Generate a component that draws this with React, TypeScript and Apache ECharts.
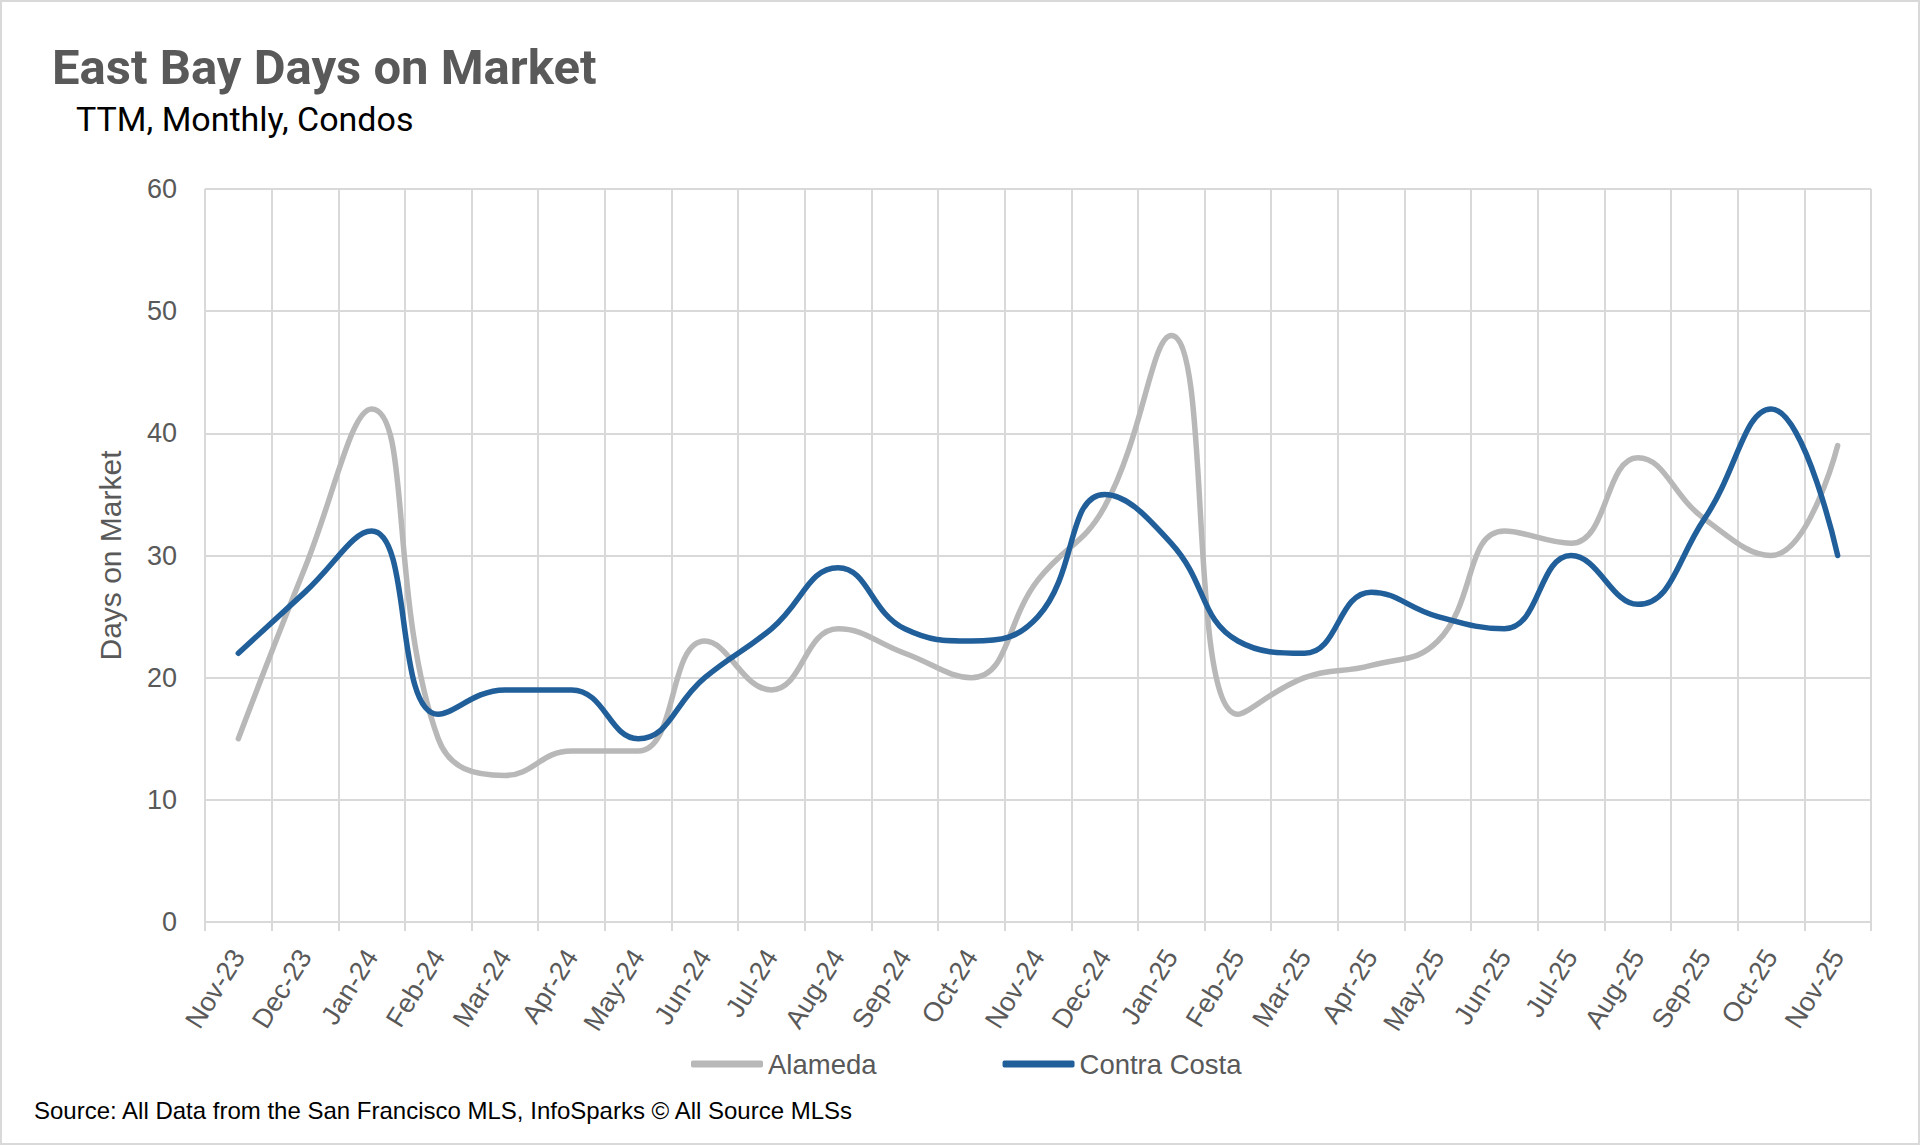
import React, { useEffect, useRef } from 'react';
import * as echarts from 'echarts';

const months = [
  'Nov-23', 'Dec-23', 'Jan-24', 'Feb-24', 'Mar-24', 'Apr-24', 'May-24', 'Jun-24', 'Jul-24',
  'Aug-24', 'Sep-24', 'Oct-24', 'Nov-24', 'Dec-24', 'Jan-25', 'Feb-25', 'Mar-25', 'Apr-25',
  'May-25', 'Jun-25', 'Jul-25', 'Aug-25', 'Sep-25', 'Oct-25', 'Nov-25',
];
const alameda = [15, 29, 42, 15, 12, 14, 14, 23, 19, 24, 22, 20, 28, 34, 48, 17, 20, 21, 23, 32, 31, 38, 33, 30, 39];
const contraCosta = [22, 27, 32, 17, 19, 19, 15, 20, 24, 29, 24, 23, 25, 35, 31, 23, 22, 27, 25, 24, 30, 26, 33, 42, 30];

const GRID_COLOR = '#d9d9d9';
const LABEL_COLOR = '#595959';
const GRAY = '#b8b8b8';
const BLUE = '#215f9a';
const FONT = "'Liberation Sans', Arial, sans-serif";
const HEAD = "Roboto, 'Liberation Sans', sans-serif";

const DaysOnMarketChart: React.FC = () => {
  const chartRef = useRef<HTMLDivElement>(null);

  useEffect(() => {
    const chart = echarts.init(chartRef.current!, undefined, { renderer: 'svg' });
    const option: echarts.EChartsOption = {
      animation: false,
      backgroundColor: '#ffffff',
      graphic: [
        {
          type: 'text',
          left: 50,
          top: 41,
          style: {
            text: 'East Bay Days on Market',
            font: `bold 49px ${HEAD}`,
            fill: LABEL_COLOR,
          },
        },
        {
          type: 'text',
          left: 74,
          top: 100,
          style: {
            text: 'TTM, Monthly, Condos',
            font: `normal 34px ${HEAD}`,
            fill: '#000000',
          },
        },
        {
          type: 'text',
          left: 32,
          top: 1096,
          style: {
            text: 'Source: All Data from the San Francisco MLS, InfoSparks © All Source MLSs',
            font: `normal 24px ${FONT}`,
            fill: '#000000',
          },
        },
      ],
      legend: {
        left: 684,
        top: 1043,
        itemWidth: 72,
        itemHeight: 7,
        itemGap: 126,
        icon: 'roundRect',
        textStyle: { fontFamily: FONT, fontSize: 27.5, color: LABEL_COLOR },
        data: ['Alameda', 'Contra Costa'],
      },
      grid: { left: 203, right: 47, top: 187, bottom: 221 },
      xAxis: {
        type: 'category',
        data: months,
        boundaryGap: true,
        axisLine: { lineStyle: { color: GRID_COLOR, width: 2 } },
        axisTick: { show: true, interval: 0, length: 9, lineStyle: { color: GRID_COLOR, width: 2 } },
        splitLine: { show: true, interval: 0, lineStyle: { color: GRID_COLOR, width: 2 } },
        axisLabel: {
          interval: 0,
          rotate: 58,
          margin: 30,
          fontFamily: FONT,
          fontSize: 27,
          color: LABEL_COLOR,
        },
      },
      yAxis: {
        type: 'value',
        min: 0,
        max: 60,
        interval: 10,
        name: 'Days on Market',
        nameLocation: 'middle',
        nameGap: 80,
        nameTextStyle: { fontFamily: FONT, fontSize: 30, color: LABEL_COLOR },
        axisLine: { show: false },
        axisTick: { show: false },
        splitLine: { lineStyle: { color: GRID_COLOR, width: 2 } },
        axisLabel: { margin: 28, fontFamily: FONT, fontSize: 27, color: LABEL_COLOR },
      },
      series: [
        {
          name: 'Alameda',
          type: 'line',
          data: alameda,
          smooth: 0.45,
          symbol: 'none',
          color: GRAY,
          lineStyle: { width: 5.5, color: GRAY, cap: 'round' },
        },
        {
          name: 'Contra Costa',
          type: 'line',
          data: contraCosta,
          smooth: 0.45,
          symbol: 'none',
          color: BLUE,
          lineStyle: { width: 5.5, color: BLUE, cap: 'round' },
        },
      ],
    };

    chart.setOption(option);

    return () => {
      chart.dispose();
    };
  }, []);

  return (
    <div
      style={{
        position: 'fixed',
        left: 0,
        top: 0,
        width: 1920,
        height: 1145,
        boxSizing: 'border-box',
        border: '2px solid #d9d9d9',
        background: '#ffffff',
      }}
    >
      <div ref={chartRef} style={{ width: '100%', height: '100%' }} />
    </div>
  );
};

export default function App() {
  return <DaysOnMarketChart />;
}
